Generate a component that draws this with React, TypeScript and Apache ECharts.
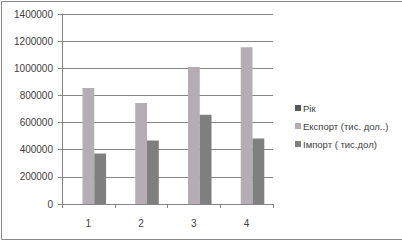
import React, { useEffect, useRef } from "react";
import * as echarts from "echarts";

const categories = ["1", "2", "3", "4"];
const seriesNames = ["Рік", "Експорт (тис. дол..)", "Імпорт ( тис.дол)"];
const yearValues = [0, 0, 0, 0];
const exportValues = [855000, 745000, 1010000, 1155000];
const importValues = [372000, 468000, 657000, 482000];
const colors = ["#595959", "#b4aeb4", "#7f7f7f"];

export default function App() {
  const ref = useRef<HTMLDivElement>(null);
  useEffect(() => {
    document.body.style.margin = "0";
    const chart = echarts.init(ref.current!, null, { renderer: "svg" });
    const font = "'Liberation Sans', Arial, sans-serif";
    const mkSeries = (name: string, data: number[], color: string) => ({
      name,
      type: "bar",
      data,
      barGap: "0%",
      barCategoryGap: "33%",
      itemStyle: { color },
    });
    chart.setOption({
      animation: false,
      color: colors,
      graphic: [
        {
          type: "rect",
          shape: { x: 1.5, y: 1.5, width: 430, height: 238 },
          style: { fill: "none", stroke: "#8a8a8a", lineWidth: 1 },
          silent: true,
        },
      ],
      grid: { left: 62, right: 129, top: 14, bottom: 37, containLabel: false },
      legend: {
        orient: "vertical",
        left: 290,
        top: 98,
        itemWidth: 6,
        itemHeight: 6,
        itemGap: 8,
        icon: "rect",
        selectedMode: false,
        data: seriesNames.map((n) => ({ name: n, textStyle: { color: "#404040" } })),
        textStyle: { fontFamily: font, fontSize: 9.5, color: "#404040", padding: [0, 0, 0, -3] },
      },
      xAxis: {
        type: "category",
        data: categories,
        axisLine: { lineStyle: { color: "#868686", width: 1 } },
        axisTick: { show: true, length: 4, lineStyle: { color: "#868686" }, alignWithLabel: false },
        axisLabel: { fontFamily: font, fontSize: 10, color: "#404040", margin: 14 },
      },
      yAxis: {
        type: "value",
        min: 0,
        max: 1400000,
        interval: 200000,
        axisLine: { show: true, lineStyle: { color: "#868686", width: 1 } },
        axisTick: { show: true, length: 4, lineStyle: { color: "#868686" } },
        splitLine: { lineStyle: { color: "#868686", width: 1 } },
        axisLabel: {
          fontFamily: font,
          fontSize: 10,
          color: "#404040",
          margin: 9,
          formatter: (v: number) => String(v),
        },
      },
      series: [
        mkSeries(seriesNames[0], yearValues, colors[0]),
        mkSeries(seriesNames[1], exportValues, colors[1]),
        mkSeries(seriesNames[2], importValues, colors[2]),
      ],
    });
    return () => chart.dispose();
  }, []);
  return <div ref={ref} style={{ width: 402, height: 241 }} />;
}
